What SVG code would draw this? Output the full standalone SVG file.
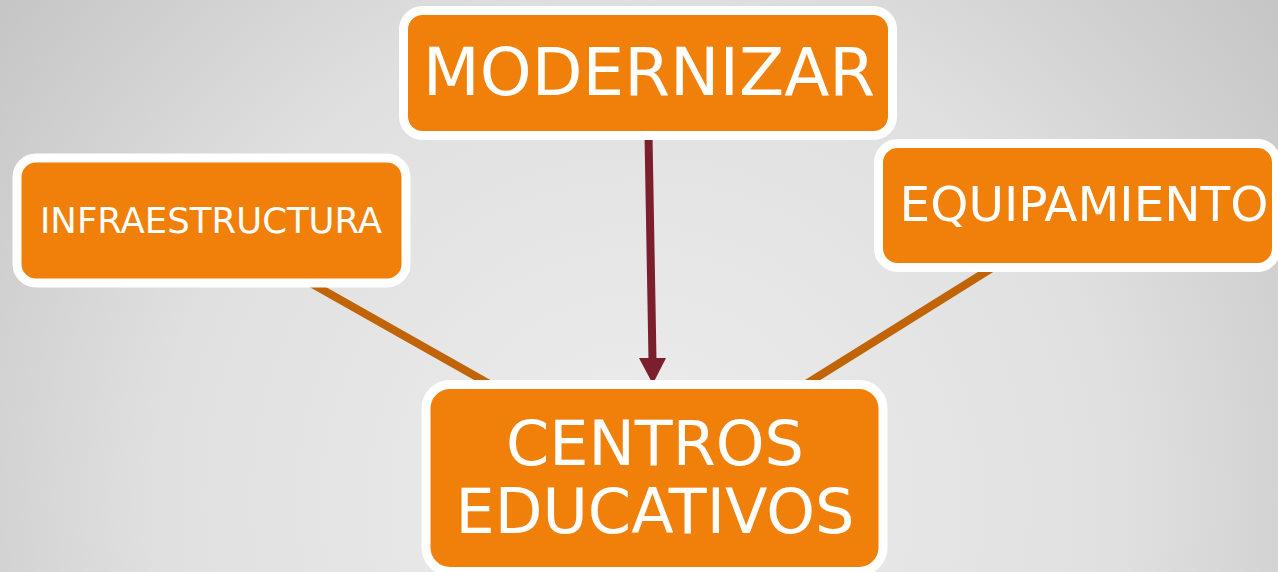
<svg xmlns="http://www.w3.org/2000/svg" width="1278" height="572" viewBox="0 0 1278 572">
<style>
.box{fill:#f0800a;stroke:#ffffff;stroke-width:9}
.lbl{fill:#ffffff;font-family:"DejaVu Sans",Verdana,sans-serif;text-anchor:middle}
.link{stroke:#c06406;stroke-width:8;fill:none;stroke-linecap:butt}
.arrow{stroke:#7a1f2b;stroke-width:8;fill:none}
</style>
<defs>
<radialGradient id="bg" gradientUnits="userSpaceOnUse" cx="640" cy="500" r="800">
<stop offset="0" stop-color="#ededed"/>
<stop offset="0.6" stop-color="#e0e0e0"/>
<stop offset="1" stop-color="#c6c6c6"/>
</radialGradient>
</defs>
<rect x="0" y="0" width="1278" height="572" fill="url(#bg)"/>
<g id="connectors">
<line class="link" x1="300" y1="277" x2="500" y2="390"/>
<line class="link" x1="1000" y1="263" x2="795" y2="391"/>
<line class="arrow" x1="648.5" y1="135" x2="652.5" y2="360"/>
<polygon points="639,358 666,358 652.8,384" fill="#7a1f2b"/>
</g>
<g id="modernizar">
<rect class="box" x="403.5" y="10.5" width="489" height="125" rx="19"/>
<text class="lbl" x="649" y="95" font-size="66">MODERNIZAR</text>
</g>
<g id="infraestructura">
<rect class="box" x="17" y="158" width="389" height="125" rx="19"/>
<text class="lbl" x="211" y="233" font-size="35.5">INFRAESTRUCTURA</text>
</g>
<g id="equipamiento">
<rect class="box" x="878.5" y="143.5" width="398" height="124" rx="19"/>
<text class="lbl" x="1084" y="221" font-size="48.5">EQUIPAMIENTO</text>
</g>
<g id="centros">
<rect class="box" x="426" y="384.5" width="457" height="187" rx="24"/>
<text class="lbl" x="655" y="465" font-size="62">CENTROS</text>
<text class="lbl" x="655" y="533" font-size="62">EDUCATIVOS</text>
</g>
</svg>
